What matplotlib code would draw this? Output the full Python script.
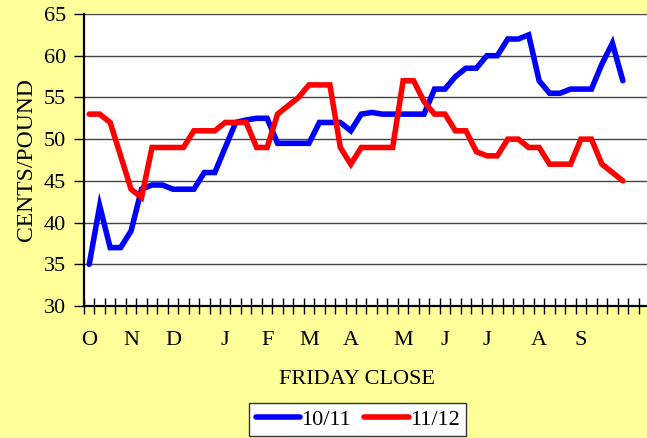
import numpy as np
import matplotlib.pyplot as plt
from matplotlib.ticker import FixedLocator

# weekly friday closes, cents/pound
crop_1011 = [
    35, 42, 37, 37, 39, 44, 44.5, 44.5, 44, 44, 44, 46, 46,
    49, 52, 52.3, 52.5, 52.5, 49.5, 49.5, 49.5, 49.5, 52, 52, 52, 51,
    53, 53.2, 53, 53, 53, 53, 53, 56, 56, 57.5, 58.5, 58.5, 60, 60,
    62, 62, 62.5, 57, 55.5, 55.5, 56, 56, 56, 59, 61.5, 57,
]
crop_1112 = [
    53, 53, 52, 48, 44, 43, 49, 49, 49, 49, 51, 51, 51,
    52, 52, 52, 49, 49, 53, 54, 55, 56.5, 56.5, 56.5, 49, 47,
    49, 49, 49, 49, 57, 57, 54.5, 53, 53, 51, 51, 48.5, 48, 48,
    50, 50, 49, 49, 47, 47, 47, 50, 50, 47, 46, 45,
]
month_labels = ["O", "N", "D", "J", "F", "M", "A", "M", "J", "J", "A", "S"]
month_weeks = [0, 4, 8, 13, 17, 21, 25, 30, 34, 38, 43, 47]
n_weeks = 54

bg = "#FFFF99"
font = "Liberation Serif"
plt.rcParams["font.family"] = font

fig = plt.figure(figsize=(6.47, 4.38), dpi=100, facecolor=bg)
ax = fig.add_axes([84 / 647, 1 - 306 / 438, 565 / 647, 292 / 438])
ax.set_facecolor("white")

weeks = np.arange(len(crop_1011))
ax.plot(weeks, crop_1011, color="#0000FF", lw=4.0, label="10/11",
        solid_capstyle="round", solid_joinstyle="miter", zorder=3)
ax.plot(weeks, crop_1112, color="#FF0000", lw=4.0, label="11/12",
        solid_capstyle="round", solid_joinstyle="miter", zorder=3)

ax.set_xlim(-0.5, n_weeks - 0.5)
ax.set_ylim(30, 65)
ax.set_yticks(np.arange(30, 66, 5))
ax.yaxis.grid(True, color="#444444", lw=1.0)
ax.set_axisbelow(True)

ax.set_xticks(month_weeks)
ax.set_xticklabels(month_labels)
ax.xaxis.set_minor_locator(FixedLocator(np.arange(-0.5, n_weeks, 1)))
ax.tick_params(axis="x", which="major", length=0, pad=18, labelsize=16)
ax.tick_params(axis="x", which="minor", direction="inout", length=11,
               width=1.0, color="black")
ax.tick_params(axis="y", direction="out", length=7, width=1.0, pad=6,
               labelsize=16)

for side in ["top", "right"]:
    ax.spines[side].set_visible(False)
ax.spines["left"].set_linewidth(1.6)
ax.spines["bottom"].set_linewidth(1.6)

ax.set_ylabel("CENTS/POUND", fontsize=17, labelpad=5)
ax.set_xlabel("FRIDAY CLOSE", fontsize=16)
ax.xaxis.set_label_coords((357 - 84) / 565, -(64 / 292))

leg = fig.legend(loc="center", bbox_to_anchor=(357.5 / 647, 1 - 419.5 / 438),
                 ncol=2, frameon=True, fancybox=False, fontsize=16,
                 handlelength=2.0, handletextpad=0.05, columnspacing=0.6,
                 borderpad=0.3, borderaxespad=0.2, edgecolor="#333333",
                 facecolor="white", framealpha=1.0)
leg.get_frame().set_linewidth(1.0)

fig.savefig("out.png", dpi=100, facecolor=bg)
